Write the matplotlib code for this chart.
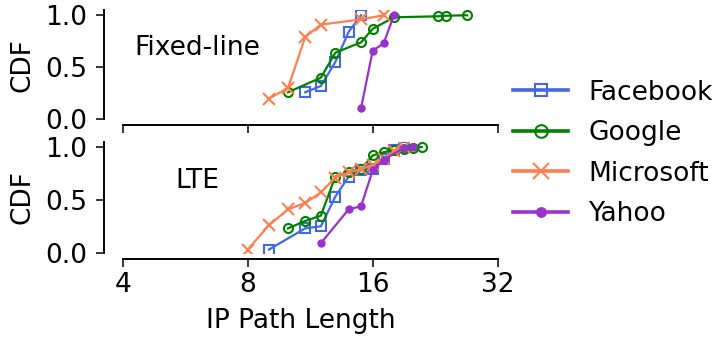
import numpy as np
import matplotlib
matplotlib.use('Agg')
import matplotlib.pyplot as plt
from matplotlib.ticker import FixedLocator, FixedFormatter, NullLocator

# top panel: Fixed-line
fl_facebook_x = [11, 12, 13, 14, 15]
fl_facebook_y = [0.26, 0.32, 0.55, 0.84, 1.0]
fl_google_x = [10, 12, 13, 15, 16, 18, 23, 24, 27]
fl_google_y = [0.26, 0.40, 0.64, 0.74, 0.87, 0.98, 0.99, 0.995, 1.0]
fl_microsoft_x = [9, 10, 11, 12, 15, 17]
fl_microsoft_y = [0.20, 0.30, 0.79, 0.91, 0.96, 1.0]
fl_yahoo_x = [15, 16, 17, 18]
fl_yahoo_y = [0.11, 0.66, 0.73, 1.0]

# bottom panel: LTE
lte_facebook_x = [9, 11, 12, 13, 14, 15, 16, 17, 18, 19]
lte_facebook_y = [0.03, 0.23, 0.25, 0.53, 0.72, 0.78, 0.79, 0.89, 0.97, 1.0]
lte_google_x = [10, 11, 12, 13, 14, 15, 16, 17, 18, 19, 20, 21]
lte_google_y = [0.23, 0.30, 0.35, 0.72, 0.76, 0.79, 0.92, 0.95, 0.97, 0.98, 0.99, 1.0]
lte_microsoft_x = [8, 9, 10, 11, 12, 13, 14, 15, 16, 17, 18, 19]
lte_microsoft_y = [0.03, 0.26, 0.41, 0.47, 0.57, 0.71, 0.76, 0.79, 0.83, 0.89, 0.96, 1.0]
lte_yahoo_x = [12, 14, 15, 16, 17, 19, 20]
lte_yahoo_y = [0.09, 0.41, 0.44, 0.78, 0.88, 0.99, 1.0]

schemes = ['Facebook', 'Google', 'Microsoft', 'Yahoo']
colors = ['royalblue', 'green', 'coral', 'darkorchid']
markers = ['s', 'o', 'x', '.']
msizes = [6.5, 6.5, 8, 9]

panels = [
    ('Fixed-line', [(fl_facebook_x, fl_facebook_y), (fl_google_x, fl_google_y),
                    (fl_microsoft_x, fl_microsoft_y), (fl_yahoo_x, fl_yahoo_y)]),
    ('LTE', [(lte_facebook_x, lte_facebook_y), (lte_google_x, lte_google_y),
             (lte_microsoft_x, lte_microsoft_y), (lte_yahoo_x, lte_yahoo_y)]),
]

xticks = [4, 8, 16, 32]
yticks = [0.0, 0.5, 1.0]

fs = 19
fig = plt.figure(figsize=(7.22, 3.39), dpi=100)
axes = [fig.add_axes([0.144, 0.648, 0.5453, 0.3224]),
        fig.add_axes([0.144, 0.2546, 0.5453, 0.3274])]

for k, (name, series) in enumerate(panels):
    ax = axes[k]
    for j in range(len(schemes)):
        x, y = series[j]
        ax.plot(x, y, '-',
                color=colors[j],
                marker=markers[j],
                markersize=msizes[j],
                fillstyle='none' if markers[j] in ('s', 'o') else 'full',
                markeredgewidth=1.5,
                linewidth=1.6,
                label=schemes[j])
    ax.set_xscale('log', base=2)
    ax.set_xlim(3.603, 32)
    ax.set_ylim(0, 1.05)
    ax.xaxis.set_major_locator(FixedLocator(xticks))
    ax.xaxis.set_minor_locator(NullLocator())
    ax.set_yticks(yticks)
    ax.set_yticklabels(['%.1f' % v for v in yticks])
    if k == 0:
        ax.set_xticklabels([])
    else:
        ax.xaxis.set_major_formatter(FixedFormatter([str(v) for v in xticks]))
        ax.set_xlabel('IP Path Length', fontsize=fs, labelpad=7)
    ax.set_ylabel('CDF', fontsize=fs, labelpad=7)
    ax.tick_params(labelsize=fs, length=5.8, width=1.1, pad=6)
    ax.tick_params(axis='x', pad=4)
    ax.spines['top'].set_visible(False)
    ax.spines['right'].set_visible(False)
    ax.spines['bottom'].set_position(('outward', 4.3))
    ax.spines['bottom'].set_bounds(4, 32)
    for s in ['left', 'bottom']:
        ax.spines[s].set_linewidth(1.4)
    ax.text(0.236, 0.65, name, transform=ax.transAxes, ha='center', va='center',
            fontsize=fs)

handles, labels = axes[0].get_legend_handles_labels()
leg = fig.legend(handles, labels, loc='center left',
                 bbox_to_anchor=(0.7105, 0.5475),
                 fontsize=fs, frameon=False, markerscale=1.4,
                 handlelength=2.1, handletextpad=0.75,
                 labelspacing=0.55, borderpad=0, borderaxespad=0)
for line in leg.get_lines():
    line.set_linewidth(2.6)

fig.savefig('out.png', dpi=100)
